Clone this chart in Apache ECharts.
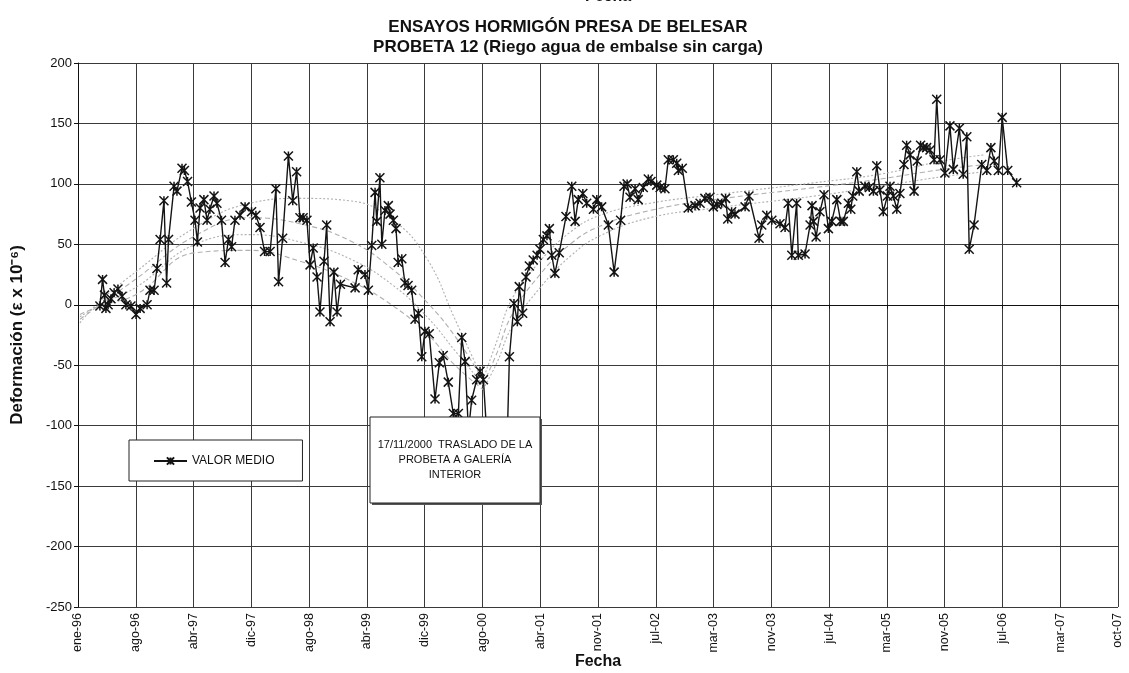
<!DOCTYPE html>
<html><head><meta charset="utf-8">
<script src="https://cdn.jsdelivr.net/npm/echarts/dist/echarts.min.js"></script>
<style>html,body{margin:0;padding:0;background:#fff}#c{width:1129px;height:673px}</style>
</head><body><div id="c"></div>
<script>
// ---- DATA ----
const fechas = [
'1996-04-01','1996-04-12','1996-04-20','1996-04-26','1996-05-05','1996-05-17','1996-05-30','1996-06-15','1996-07-02','1996-07-18',
'1996-08-08','1996-08-29','1996-09-15','1996-10-14','1996-10-26','1996-11-12','1996-11-24','1996-12-07','1996-12-23','1997-01-03',
'1997-01-11','1997-02-03','1997-02-15','1997-03-08','1997-03-18','1997-03-31','1997-04-16','1997-05-01','1997-05-11','1997-05-22',
'1997-06-07','1997-06-20','1997-07-02','1997-07-19','1997-07-31','1997-08-19','1997-09-03','1997-09-17','1997-09-30','1997-10-14',
'1997-11-04','1997-11-25','1997-12-22','1998-01-09','1998-01-26','1998-02-14','1998-03-09','1998-04-02','1998-04-13','1998-04-30',
'1998-05-24','1998-06-11','1998-06-27','1998-07-11','1998-07-24','1998-08-09','1998-08-22','1998-09-04','1998-09-20','1998-10-02',
'1998-10-19','1998-10-30','1998-11-13','1998-11-29','1998-12-12','1998-12-26','1999-02-25','1999-03-10','1999-04-07','1999-04-21',
'1999-05-05','1999-05-19','1999-05-26','1999-06-08','1999-06-16','1999-06-29','1999-07-13','1999-07-20','1999-08-03','1999-08-14',
'1999-08-23','1999-09-07','1999-09-20','1999-10-03','1999-10-18','1999-11-01','1999-11-15','1999-11-29','1999-12-12','1999-12-30',
'2000-01-23','2000-02-10','2000-02-26','2000-03-18','2000-04-08','2000-04-29','2000-05-13','2000-05-27','2000-06-10','2000-06-23',
'2000-07-14','2000-07-28','2000-08-11','2000-08-26','2000-11-17','2000-11-27','2000-12-16','2000-12-30','2001-01-07','2001-01-21',
'2001-02-04','2001-02-18','2001-03-06','2001-03-22','2001-04-03','2001-04-17','2001-05-02','2001-05-12','2001-05-22','2001-06-04',
'2001-06-22','2001-07-20','2001-08-13','2001-08-27','2001-09-09','2001-09-28','2001-10-14','2001-11-11','2001-11-25','2001-12-15',
'2002-01-12','2002-02-05','2002-03-04','2002-03-18','2002-03-31','2002-04-12','2002-05-03','2002-05-16','2002-06-06','2002-06-27',
'2002-07-08','2002-08-01','2002-08-15','2002-09-04','2002-09-18','2002-10-09','2002-10-23','2002-10-30','2002-11-15','2002-12-10',
'2003-01-07','2003-01-28','2003-02-17','2003-03-10','2003-03-24','2003-04-08','2003-04-28','2003-05-14','2003-05-23','2003-06-08',
'2003-06-22','2003-08-03','2003-08-19','2003-09-30','2003-10-11','2003-11-01','2003-11-22','2003-12-26','2004-01-16','2004-01-29',
'2004-02-13','2004-03-04','2004-03-11','2004-04-08','2004-04-29','2004-05-07','2004-05-13','2004-05-24','2004-06-09','2004-06-26',
'2004-07-14','2004-07-28','2004-08-18','2004-09-03','2004-09-14','2004-10-05','2004-10-15','2004-10-23','2004-11-09','2004-11-19',
'2004-12-13','2004-12-31','2005-01-17','2005-01-31','2005-02-13','2005-02-27','2005-03-16','2005-03-27','2005-04-10','2005-04-24',
'2005-05-07','2005-05-24','2005-06-04','2005-06-18','2005-07-05','2005-07-18','2005-08-01','2005-08-12','2005-08-26','2005-09-09',
'2005-09-26','2005-10-07','2005-10-21','2005-11-10','2005-12-01','2005-12-15','2006-01-09','2006-01-25','2006-02-09','2006-02-19',
'2006-03-11','2006-04-12','2006-05-03','2006-05-20','2006-06-03','2006-06-20','2006-07-06','2006-07-29','2006-09-04'
];
const valorMedio = [
-1,21,8,-3,0,5,10,13,7,0,
-1,-8,-3,0,12,12,30,54,86,18,
54,98,94,113,111,102,85,70,52,80,
87,70,79,90,84,70,35,54,48,70,
74,81,77,74,64,44,44,96,19,55,
123,86,110,72,72,70,33,47,23,-6,
36,66,-14,27,-6,17,14,29,25,12,
49,93,69,105,50,78,82,75,70,63,
35,38,18,16,12,-12,-7,-43,-22,-24,
-78,-48,-42,-64,-90,-90,-27,-47,-105,-79,
-62,-55,-62,-110,-118,-43,1,-14,15,-7,
23,32,37,41,46,54,57,63,41,26,
43,73,98,69,87,92,84,79,87,81,
66,27,70,98,100,89,96,87,97,104,
102,99,97,96,120,120,117,111,113,80,
82,84,88,89,81,83,84,88,71,77,
75,81,90,55,66,74,70,67,64,84,
41,84,41,42,66,82,69,56,77,91,
63,69,87,69,69,84,79,90,110,94,
98,97,94,115,95,77,90,98,90,79,
92,116,132,124,94,119,132,130,130,128,
120,170,120,109,148,112,146,108,139,46,
66,116,111,130,119,111,155,111,101
];
// grey trend curves
const fechasTendIzq = ['1996-01-09','1996-04-01','1996-09-02','1997-05-01','1997-12-16','1998-07-11','1999-02-04','1999-08-02','1999-12-21','2000-04-15','2000-08-09'];
const tendIzq1 = [-15, 3, 28, 64, 84, 88, 86, 70, 38, -12, -62];
const tendIzq2 = [-12, 0, 22, 57, 72, 67, 53, 29, 2, -26, -62];
const tendIzq3 = [-10, 0, 15, 50, 58, 52, 38, 16, -10, -38, -66];
const tendIzq4 = [-8, -1, 9, 43, 45, 36, 20, -1, -24, -50, -70];
const fechasTendDer = ['2000-08-09','2000-10-06','2000-12-08','2001-04-03','2001-08-06','2001-12-08','2002-07-04','2003-03-31','2004-05-19','2005-02-13','2005-11-02','2006-04-26'];
const tendDer1 = [-62, -30, 5, 36, 60, 74, 84, 91, 101, 108, 119, 124];
const tendDer2 = [-66, -40, -8, 25, 50, 65, 78, 87, 97, 104, 112, 116];
const tendDer3 = [-70, -48, -18, 14, 40, 57, 72, 80, 90, 98, 106, 110];
const mesesAbr = ['ene','feb','mar','abr','may','jun','jul','ago','sep','oct','nov','dic'];
const yMin = -250, yMax = 200, yPaso = 50;
const diasMin = 0, diasMax = 4320, diasPaso = 240; // axis in days from 01/01/1996

// ---- helpers ----
const origen = Date.UTC(1996, 0, 1);
function dias(s) { const p = s.split('-'); return (Date.UTC(+p[0], +p[1] - 1, +p[2]) - origen) / 86400000; }
function pares(fs, vs) { return fs.map((f, i) => [dias(f), vs[i]]); }
function etiquetaFecha(v) {
  const d = new Date(origen + v * 86400000);
  return mesesAbr[d.getUTCMonth()] + '-' + String(d.getUTCFullYear() % 100).padStart(2, '0');
}
const FONT = "'Liberation Sans', Arial, sans-serif";
const asterisco = 'path://M0 0L10 10M10 0L0 10M5 0L5 10';

function tend(name, fs, vs, type) {
  return {
    name: name, type: 'line', data: pares(fs, vs), smooth: 0.45, symbol: 'none', z: 1,
    lineStyle: { color: '#b0b0b0', width: 1.1, type: type }, silent: true
  };
}

const chart = echarts.init(document.getElementById('c'), null, { renderer: 'canvas' });
chart.setOption({
  animation: false,
  backgroundColor: '#fff',
  textStyle: { fontFamily: FONT },
  grid: { left: 78, right: 11, top: 63, bottom: 66, outerBoundsMode: 'none', containLabel: false },
  legend: {
    data: [{ name: 'VALOR MEDIO' }],
    left: 129, top: 440,
    padding: [15, 28, 14, 24],
    borderColor: '#222', borderWidth: 1, backgroundColor: '#fff',
    itemWidth: 33, itemHeight: 9, itemGap: 0,
    textStyle: { fontSize: 12, color: '#111', fontFamily: FONT }
  },
  xAxis: {
    type: 'value', min: diasMin, max: diasMax, interval: diasPaso,
    name: 'Fecha', nameLocation: 'middle', nameGap: 47, nameMoveOverlap: false,
    nameTextStyle: { fontSize: 16, fontWeight: 'bold', color: '#111', fontFamily: FONT },
    axisLine: { lineStyle: { color: '#111', width: 1 } },
    axisTick: { show: true, length: 4, lineStyle: { color: '#111' } },
    axisLabel: { rotate: 90, fontSize: 12.5, color: '#111', margin: 6, formatter: etiquetaFecha, fontFamily: FONT },
    splitLine: { show: true, lineStyle: { color: '#3a3a3a', width: 1 } }
  },
  yAxis: {
    type: 'value', min: yMin, max: yMax, interval: yPaso,
    name: 'Deformación (ε x 10⁻⁶)', nameLocation: 'middle', nameGap: 52,
    nameTextStyle: { fontSize: 17, fontWeight: 'bold', color: '#111', fontFamily: FONT },
    axisLine: { show: true, lineStyle: { color: '#111', width: 1 } },
    axisTick: { show: true, length: 4, lineStyle: { color: '#111' } },
    axisLabel: { fontSize: 13, color: '#111', margin: 6, fontFamily: FONT },
    splitLine: { show: true, lineStyle: { color: '#3a3a3a', width: 1 } }
  },
  series: [
    tend('t1', fechasTendIzq, tendIzq1, [2, 2]),
    tend('t2', fechasTendIzq, tendIzq2, [5, 3]),
    tend('t3', fechasTendIzq, tendIzq3, [2, 2]),
    tend('t4', fechasTendIzq, tendIzq4, [5, 3]),
    tend('t5', fechasTendDer, tendDer1, [2, 2]),
    tend('t6', fechasTendDer, tendDer2, [5, 3]),
    tend('t7', fechasTendDer, tendDer3, [2, 2]),
    {
      name: 'VALOR MEDIO', type: 'line', data: pares(fechas, valorMedio), z: 3,
      symbol: asterisco, symbolSize: 9, showAllSymbol: true,
      lineStyle: { color: '#141414', width: 1.4 },
      itemStyle: { color: '#141414', borderColor: '#141414', borderWidth: 1.5 }
    }
  ],
  graphic: [
    { type: 'text', z: 100, style: { text: 'Fecha', x: 608, y: -11, font: 'bold 16px ' + FONT, fill: '#111', textAlign: 'center', align: 'center', textVerticalAlign: 'top', verticalAlign: 'top' } },
    { type: 'text', z: 100, style: { text: 'ENSAYOS HORMIGÓN PRESA DE BELESAR', x: 568, y: 27, font: 'bold 17px ' + FONT, fill: '#111', textAlign: 'center', align: 'center', textVerticalAlign: 'middle', verticalAlign: 'middle' } },
    { type: 'text', z: 100, style: { text: 'PROBETA 12 (Riego agua de embalse sin carga)', x: 568, y: 47, font: 'bold 17px ' + FONT, fill: '#111', textAlign: 'center', align: 'center', textVerticalAlign: 'middle', verticalAlign: 'middle' } },
    { type: 'rect', z: 99, shape: { x: 372, y: 419, width: 170, height: 86 }, style: { fill: '#555', stroke: null } },
    { type: 'rect', z: 100, shape: { x: 370, y: 417, width: 170, height: 86 }, style: { fill: '#fff', stroke: '#222', lineWidth: 1 } },
    { type: 'text', z: 101, style: { text: '17/11/2000  TRASLADO DE LA\nPROBETA A GALERÍA\nINTERIOR', x: 455, y: 460, font: '11px ' + FONT, lineHeight: 15, fill: '#111', textAlign: 'center', align: 'center', textVerticalAlign: 'middle', verticalAlign: 'middle' } }
  ]
});
</script></body></html>
